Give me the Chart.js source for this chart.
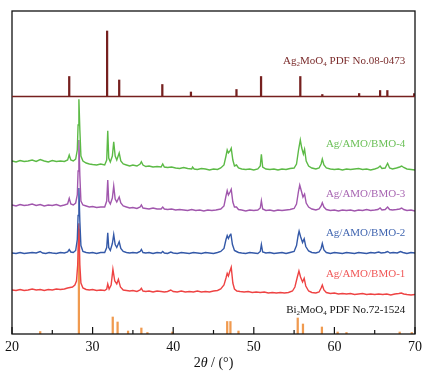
<!DOCTYPE html>
<html>
<head>
<meta charset="utf-8">
<script src="https://cdn.jsdelivr.net/npm/chart.js@4.4.1/dist/chart.umd.min.js"></script>
<style>
  html, body { margin: 0; padding: 0; background: #fff; }
  #wrap { width: 437px; height: 380px; }
</style>
</head>
<body>
<div id="wrap"><canvas id="xrd"></canvas></div>
<script>
// --- data: [2theta, intensity above the curve's own baseline] ---
const bmo4 = [
  [20.0,9],[20.5,8],[21.0,9.5],[21.5,8.5],[22.0,9],[22.5,10],[23.0,8.5],[23.5,10.5],[24.0,9],[24.5,8],
  [25.0,9.5],[25.5,8.5],[26.0,9],[26.5,8.5],[26.9,10],[27.1,15],[27.3,10],[27.6,9],[27.9,11],[28.1,20],
  [28.2,45],[28.3,70.7],[28.42,40],[28.55,14],[28.8,9],[29.2,7],[29.6,6],[30.0,5.5],[30.5,5],[31.0,6],
  [31.5,5],[31.75,10],[31.88,39.3],[32.0,12],[32.2,8],[32.45,14],[32.62,28.3],[32.8,14],[33.0,10],[33.3,17],
  [33.5,9],[33.8,6],[34.2,5],[34.6,4],[35.0,5],[35.5,4],[35.9,6],[36.05,8.3],[36.25,5],[36.6,3.5],
  [37.0,4],[37.5,3],[38.0,3.5],[38.5,3],[38.7,6],[38.9,3],[39.3,2.5],[39.8,3],[40.3,2],[40.8,1.5],
  [41.3,2.5],[41.8,1.5],[42.3,1],[42.4,3],[42.6,1],[43.0,0.5],[43.5,1.5],[44.0,1],[44.5,0],[45.0,1],
  [45.5,0.5],[45.9,2],[46.3,5],[46.55,14],[46.7,20],[46.85,17],[47.05,19],[47.2,21.7],[47.4,10],[47.6,4],
  [47.85,5],[48.1,2],[48.5,1],[49.0,0.5],[49.5,1],[50.0,0],[50.5,1],[50.8,4],[50.94,15.7],[51.1,3],
  [51.5,1],[52.0,0.5],[52.5,1],[53.0,0],[53.5,1],[54.0,0.5],[54.5,1.5],[55.0,2],[55.3,6],[55.55,20],
  [55.77,30],[55.95,22],[56.15,16],[56.3,20.7],[56.5,9],[56.8,4],[57.2,2],[57.7,1],[58.1,2],[58.35,6],
  [58.5,11],[58.7,5],[59.0,2],[59.5,1],[60.0,0.5],[60.5,1],[61.0,0],[61.5,1],[62.0,0.5],[62.5,1],
  [63.0,1.5],[63.5,0.5],[64.0,1],[64.5,0],[65.0,1],[65.4,2],[65.67,4],[65.9,1.5],[66.3,2],[66.6,6.7],
  [66.85,2],[67.2,1],[67.7,2],[68.1,3],[68.35,4],[68.6,2.5],[69.0,1],[69.5,0.5],[70.0,0]
];
const bmo3 = [
  [20.0,6],[20.5,5],[21.0,6.5],[21.5,5.5],[22.0,6],[22.5,7],[23.0,5.5],[23.5,6.5],[24.0,5],[24.5,6],
  [25.0,5.5],[25.5,6.5],[26.0,5],[26.5,6],[26.9,7],[27.1,12.7],[27.3,7],[27.6,6],[27.9,8],[28.1,16],
  [28.2,40],[28.3,71],[28.42,35],[28.55,10],[28.8,6],[29.2,5],[29.6,4],[30.0,4.5],[30.5,3.5],[31.0,4],
  [31.5,4],[31.75,10],[31.88,31],[32.0,10],[32.2,7],[32.45,13],[32.62,25],[32.8,12],[33.0,9],[33.3,14],
  [33.5,8],[33.8,5],[34.2,4],[34.6,3],[35.0,3.5],[35.5,2.5],[35.9,4],[36.05,6],[36.25,3],[36.6,2.5],
  [37.0,2],[37.5,3],[38.0,2],[38.5,2],[38.7,4],[38.9,2],[39.3,1.5],[39.8,2],[40.3,1],[40.8,1.5],
  [41.3,1],[41.8,0.5],[42.3,1.5],[42.8,0.5],[43.3,1],[43.8,0],[44.3,1],[44.8,0.5],[45.3,1],[45.9,2],
  [46.3,5],[46.55,15],[46.7,20.3],[46.85,16],[47.05,19],[47.2,21.7],[47.4,9],[47.6,4],[47.85,4],[48.1,1.5],
  [48.5,1],[49.0,0],[49.5,1],[50.0,0.5],[50.5,1],[50.8,3],[50.94,10.3],[51.1,2],[51.5,0.5],[52.0,1],
  [52.5,0],[53.0,1],[53.5,0.5],[54.0,1],[54.5,1.5],[55.0,2.5],[55.3,7],[55.55,20],[55.7,26],[55.9,20],
  [56.1,14],[56.3,17],[56.5,8],[56.8,4],[57.2,2],[57.7,1],[58.1,2],[58.35,5],[58.5,8.3],[58.7,4],
  [59.0,1.5],[59.5,0.5],[60.0,1],[60.5,0],[61.0,1],[61.5,0.5],[62.0,1],[62.5,0],[63.0,1],[63.5,0.5],
  [64.0,1.5],[64.5,0.5],[65.0,1],[65.4,1.5],[65.67,3],[65.9,1],[66.3,1.5],[66.6,4],[66.85,1.5],[67.2,1],
  [67.7,1.5],[68.1,2],[68.35,3],[68.6,1.5],[69.0,0.5],[69.5,1],[70.0,0]
];
const bmo2 = [
  [20.0,0.5],[20.5,0],[21.0,1],[21.5,0],[22.0,0.5],[22.5,1],[23.0,0.5],[23.5,2],[23.8,0.5],[24.2,0],
  [24.6,1],[25.0,0.5],[25.5,0],[26.0,1],[26.5,0.5],[26.9,1.5],[27.1,4],[27.3,1.5],[27.6,1],[27.9,3],
  [28.1,14],[28.2,38],[28.3,65.5],[28.42,32],[28.55,8],[28.8,2],[29.2,1],[29.6,0.5],[30.0,1],[30.5,0],
  [31.0,1],[31.5,1],[31.75,6],[31.88,20.7],[32.0,6],[32.2,3],[32.45,10],[32.62,19],[32.8,9],[33.0,6],
  [33.3,11.7],[33.5,5],[33.8,2],[34.2,1],[34.6,0.5],[35.0,1],[35.5,0.5],[35.9,2],[36.05,4],[36.25,1],
  [36.6,0.5],[37.0,1],[37.5,0],[38.0,1],[38.5,0.5],[38.7,2],[38.9,0.5],[39.3,0],[39.7,1.5],[40.0,0.5],
  [40.5,0],[41.0,1],[41.5,0.5],[42.0,0],[42.5,1],[43.0,0.5],[43.5,0],[44.0,1],[44.5,0.5],[45.0,0],
  [45.5,1],[45.9,2],[46.3,5],[46.55,14],[46.7,18],[46.85,15],[47.05,18.5],[47.15,20],[47.35,9],[47.6,3],
  [47.85,2],[48.1,1],[48.5,0.5],[49.0,0],[49.5,1],[50.0,0.5],[50.5,0],[50.8,2],[50.94,9],[51.1,1.5],
  [51.5,0.5],[52.0,1],[52.5,0],[53.0,0.5],[53.5,1],[54.0,0],[54.5,1],[55.0,2],[55.3,8],[55.5,18],
  [55.62,22.3],[55.8,17],[56.05,11],[56.25,14.7],[56.45,7],[56.8,2.5],[57.2,1],[57.7,0.5],[58.1,1.5],[58.35,5],
  [58.5,10],[58.7,3.5],[59.0,1],[59.5,0],[60.0,1],[60.5,0.5],[61.0,0],[61.5,1],[62.0,0.5],[62.5,0],
  [63.0,1],[63.5,0.5],[64.0,0],[64.5,1],[65.0,0.5],[65.5,1.5],[65.8,0.5],[66.3,1],[66.6,2],[66.9,0.5],
  [67.3,1],[67.8,0.5],[68.2,2],[68.5,1],[69.0,0],[69.5,1],[70.0,0.5]
];
const bmo1 = [
  [20.0,5],[20.5,4.5],[21.0,5.5],[21.5,4.5],[22.0,5],[22.5,6],[23.0,5],[23.5,5.5],[24.0,4.5],[24.5,5.5],
  [25.0,5],[25.5,6],[26.0,5.5],[26.5,6],[26.9,7],[27.2,7.5],[27.5,8],[27.8,10],[28.0,14],[28.15,30],
  [28.3,71.7],[28.42,30],[28.55,12],[28.8,7],[29.2,5.5],[29.6,5],[30.0,5.5],[30.5,4.5],[31.0,5],[31.5,4.5],
  [31.75,6],[31.88,11],[32.05,6],[32.3,10],[32.52,25.7],[32.75,14],[33.0,11],[33.2,15.7],[33.45,8],[33.8,5],
  [34.2,4.5],[34.6,4],[35.0,4.5],[35.5,3.5],[35.9,5],[36.05,6.7],[36.25,4],[36.6,3.5],[37.0,4],[37.5,3],
  [38.0,4],[38.5,3.5],[38.9,3],[39.3,3.5],[39.7,5],[40.0,3.5],[40.5,3],[41.0,4],[41.5,3],[42.0,3.5],
  [42.5,3],[43.0,4],[43.5,3],[44.0,3.5],[44.5,3],[45.0,4],[45.5,4.5],[45.9,6],[46.3,10],[46.55,17],
  [46.7,21.7],[46.85,19],[47.0,23],[47.2,27.7],[47.4,12],[47.6,6],[47.9,4],[48.3,3.5],[48.8,3],[49.3,3.5],
  [49.8,2.5],[50.3,3],[50.8,2.5],[51.3,3],[51.8,2],[52.3,2.5],[52.8,2],[53.3,2.5],[53.8,2],[54.3,2.5],
  [54.8,4],[55.1,8],[55.4,18],[55.6,24],[55.8,18],[56.05,13],[56.25,16.7],[56.45,9],[56.8,4],[57.2,2.5],
  [57.7,2],[58.1,3],[58.35,7],[58.5,10],[58.7,5],[59.0,2.5],[59.5,1.5],[60.0,2],[60.5,1],[61.0,1.5],
  [61.5,1],[62.0,1.5],[62.5,0.5],[63.0,1],[63.5,1.5],[64.0,0.5],[64.5,1],[65.0,0.5],[65.5,1],[66.0,0.5],
  [66.5,1],[67.0,0],[67.5,1],[68.0,1.5],[68.3,2],[68.6,1],[69.0,0.5],[69.5,0],[70.0,0.5]
];
const curveNames = ['Ag/AMO/BMO-4', 'Ag/AMO/BMO-3', 'Ag/AMO/BMO-2', 'Ag/AMO/BMO-1'];
const curveOffsets = [164, 123, 80.5, 39];   // vertical stacking of the patterns

// reference cards (stick patterns)
const agPos = [27.1, 31.8, 33.3, 38.65, 42.2, 47.85, 50.9, 55.77, 58.5, 63.07, 65.67, 66.57, 69.9];
const agInt = [20, 65.5, 16.5, 12, 4.5, 7, 20, 20, 2, 3, 6, 6, 3];
const biPos = [23.5, 28.3, 32.5, 33.1, 34.4, 36.05, 36.8, 39.9, 46.7, 47.1, 48.1, 55.45, 56.1, 58.45, 60.4, 61.5, 68.1, 69.6];
const biInt = [2.5, 105, 17, 12, 3, 6, 1.5, 2, 12.5, 12.5, 3, 16, 10, 7, 2, 1.5, 2, 1.5];
const agBase = 237.5;   // top panel baseline

const xTicks = [20, 30, 40, 50, 60, 70];

// --- styles ---
const curveColors = ['#5cba46', '#a157ad', '#3459a8', '#ee4343'];
const labelColors = ['#6cc058', '#a866b2', '#4065b0', '#f05757'];
const agColor = '#76201f';
const biColor = '#f09a4f';
const SERIF = '"Liberation Serif", "DejaVu Serif", serif';

const curves = [bmo4, bmo3, bmo2, bmo1];
const datasets = curves.map((c, i) => ({
  type: 'line',
  label: curveNames[i],
  data: c.map(p => ({ x: p[0], y: p[1] + curveOffsets[i] })),
  borderColor: curveColors[i],
  borderWidth: 1.4,
  pointRadius: 0,
  tension: 0,
  order: i
}));
datasets.push({
  type: 'bar',
  label: 'Ag2MoO4 PDF',
  data: agPos.map((x, i) => ({ x: x, y: [agBase, agBase + agInt[i]] })),
  backgroundColor: agColor,
  barThickness: 1.6,
  grouped: false,
  order: 10
});
datasets.push({
  type: 'bar',
  label: 'Bi2MoO4 PDF',
  data: biPos.map((x, i) => ({ x: x, y: [0, biInt[i]] })),
  backgroundColor: biColor,
  barThickness: 1.6,
  grouped: false,
  order: 11
});

// draws text where parts flagged 1 are subscripts; right aligned at x
function subText(ctx, parts, x, y, size, color) {
  const big = size + 'px ' + SERIF, small = Math.round(size * 0.68) + 'px ' + SERIF;
  let w = 0;
  parts.forEach(p => { ctx.font = p[1] ? small : big; w += ctx.measureText(p[0]).width; });
  let cx = x - w;
  ctx.fillStyle = color;
  ctx.textBaseline = 'middle';
  ctx.textAlign = 'left';
  parts.forEach(p => {
    ctx.font = p[1] ? small : big;
    ctx.fillText(p[0], cx, p[1] ? y + 3.5 : y);
    cx += ctx.measureText(p[0]).width;
  });
}

const decor = {
  id: 'decor',
  afterDatasetsDraw(chart) {
    const ctx = chart.ctx, a = chart.chartArea;
    const xs = chart.scales.x, ys = chart.scales.y;
    ctx.save();
    // frame
    ctx.strokeStyle = '#111';
    ctx.lineWidth = 1.3;
    ctx.strokeRect(a.left, a.top, a.right - a.left, a.bottom - a.top);
    // panel separator = Ag2MoO4 baseline
    const sy = ys.getPixelForValue(agBase);
    ctx.strokeStyle = agColor;
    ctx.lineWidth = 1.5;
    ctx.beginPath(); ctx.moveTo(a.left, sy); ctx.lineTo(a.right, sy); ctx.stroke();
    // inward ticks on the 2theta axis
    ctx.strokeStyle = '#111';
    ctx.lineWidth = 1.2;
    for (let v = 20; v <= 70; v += 5) {
      const px = xs.getPixelForValue(v);
      const len = v % 10 === 0 ? 7 : 4;
      ctx.beginPath(); ctx.moveTo(px, a.bottom); ctx.lineTo(px, a.bottom - len); ctx.stroke();
    }
    // curve labels
    const lx = xs.getPixelForValue(68.8);
    const labelVals = [190, 140, 101, 60];
    ctx.font = '11px ' + SERIF;
    ctx.textAlign = 'right';
    ctx.textBaseline = 'middle';
    curveNames.forEach((n, i) => {
      ctx.fillStyle = labelColors[i];
      ctx.fillText(n, lx, ys.getPixelForValue(labelVals[i]));
    });
    subText(ctx, [['Ag', 0], ['2', 1], ['MoO', 0], ['4', 1], [' PDF No.08-0473', 0]], lx, ys.getPixelForValue(273), 11, '#7a2b2b');
    subText(ctx, [['Bi', 0], ['2', 1], ['MoO', 0], ['4', 1], [' PDF No.72-1524', 0]], lx, ys.getPixelForValue(24), 11, '#111');
    // axis title 2θ / (°) with italic theta
    const parts = [['2', ''], ['\u03b8', 'italic '], [' / (\u00b0)', '']];
    let w = 0;
    parts.forEach(p => { ctx.font = p[1] + '14px ' + SERIF; w += ctx.measureText(p[0]).width; });
    let cx = (a.left + a.right) / 2 - w / 2;
    ctx.fillStyle = '#111';
    ctx.textAlign = 'left';
    parts.forEach(p => {
      ctx.font = p[1] + '14px ' + SERIF;
      ctx.fillText(p[0], cx, 363);
      cx += ctx.measureText(p[0]).width;
    });
    ctx.restore();
  }
};

new Chart(document.getElementById('xrd'), {
  type: 'line',
  data: { datasets: datasets },
  options: {
    responsive: true,
    maintainAspectRatio: false,
    animation: false,
    events: [],
    layout: { padding: { top: 11, left: 11, right: 22, bottom: 0 } },
    plugins: { legend: { display: false }, tooltip: { enabled: false } },
    scales: {
      x: {
        type: 'linear',
        min: 20, max: 70,
        offset: false,
        grid: { display: false, drawTicks: false },
        border: { display: false },
        afterBuildTicks: s => { s.ticks = xTicks.map(v => ({ value: v })); },
        afterFit: s => { s.height = 46; },
        ticks: { padding: 5, color: '#111', font: { family: SERIF, size: 14 }, maxRotation: 0 }
      },
      y: {
        type: 'linear',
        min: 0, max: 323,
        display: false
      }
    }
  },
  plugins: [decor]
});
</script>
</body>
</html>
